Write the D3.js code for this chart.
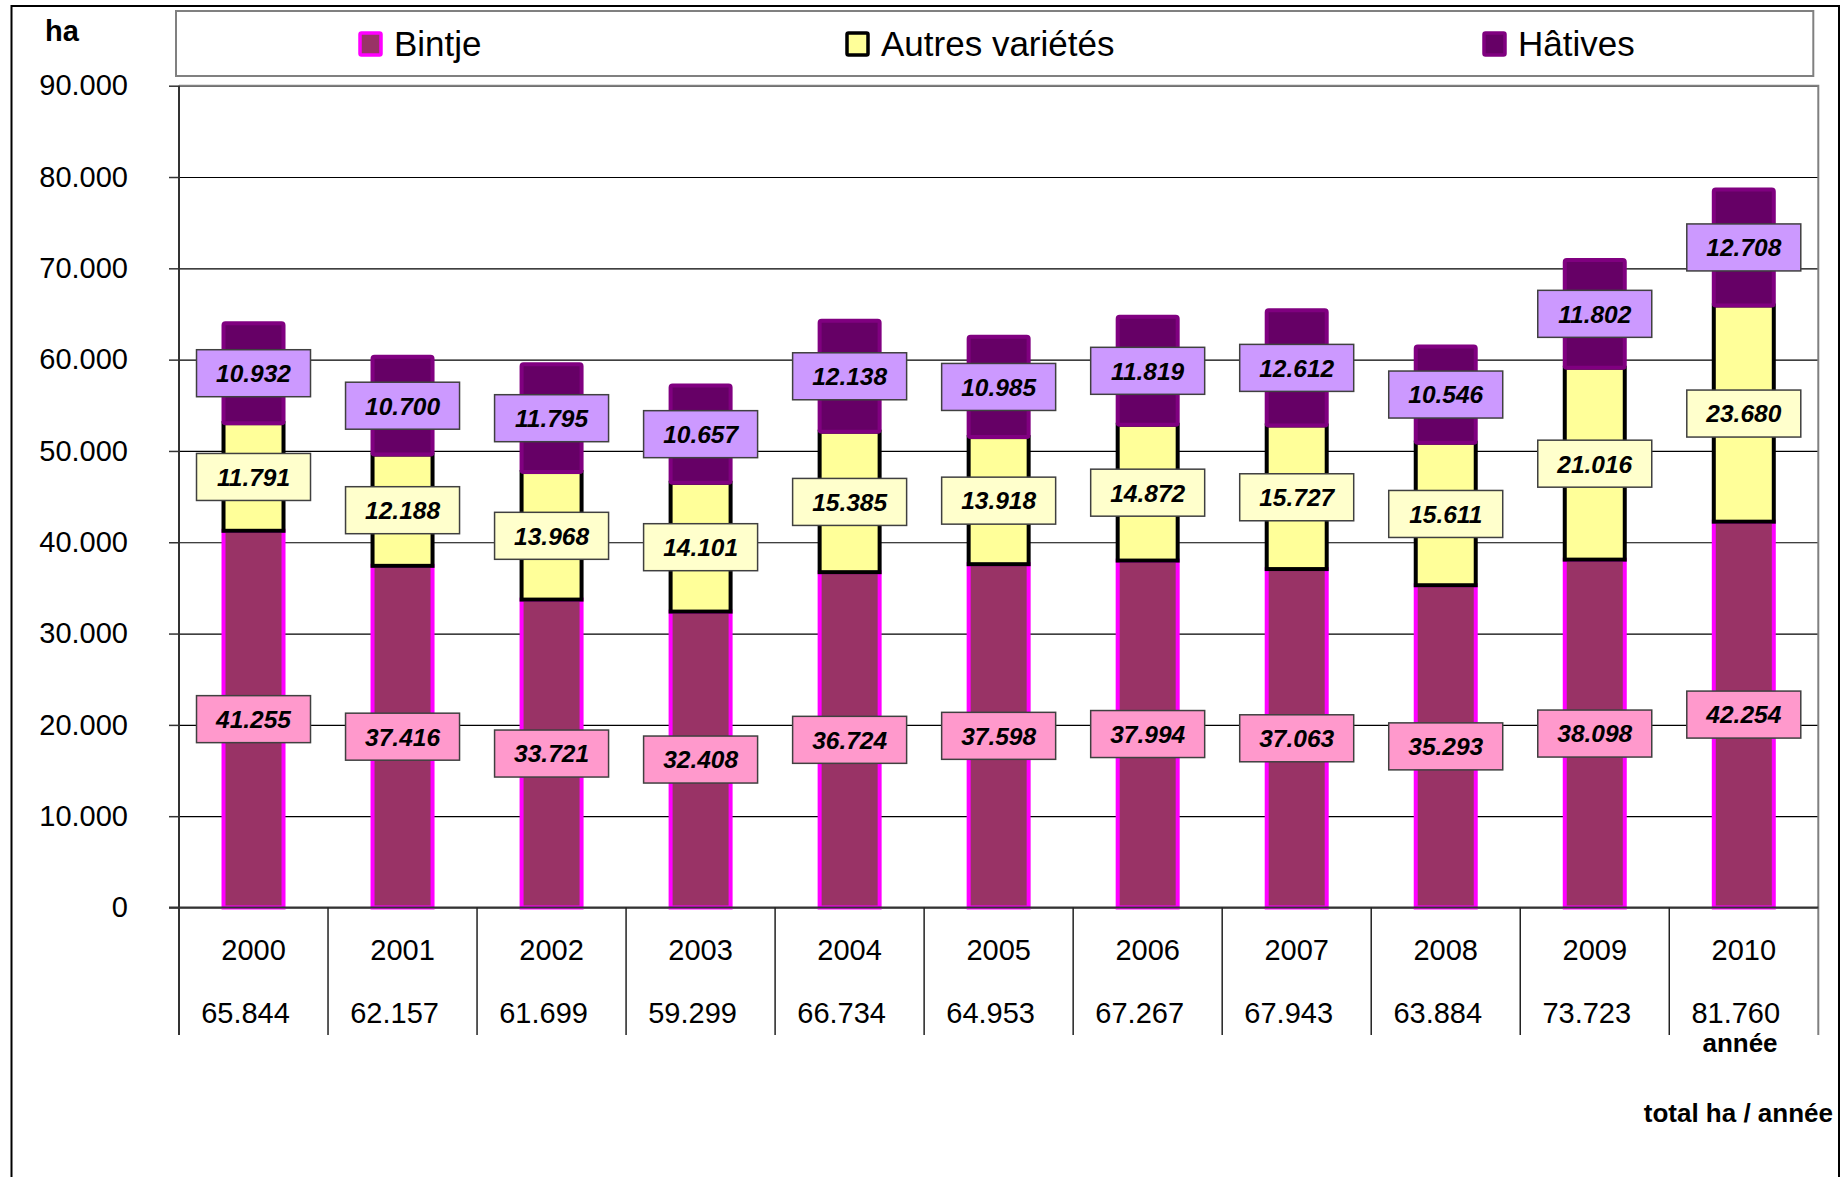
<!DOCTYPE html>
<html>
<head>
<meta charset="utf-8">
<script src="https://cdn.jsdelivr.net/npm/d3@7"></script>
<style>
  body { margin: 0; background: #fff; }
  svg { display: block; font-family: Arial, "Liberation Sans", sans-serif; }
</style>
</head>
<body>
<script>
// data
var years = ["2000", "2001", "2002", "2003", "2004", "2005", "2006", "2007", "2008", "2009", "2010"];
var bintje = [41255, 37416, 33721, 32408, 36724, 37598, 37994, 37063, 35293, 38098, 42254];
var autres = [11791, 12188, 13968, 14101, 15385, 13918, 14872, 15727, 15611, 21016, 23680];
var hatives = [10932, 10700, 11795, 10657, 12138, 10985, 11819, 12612, 10546, 11802, 12708];
var totals = [65844, 62157, 61699, 59299, 66734, 64953, 67267, 67943, 63884, 73723, 81760];
var yTicks = [0, 10000, 20000, 30000, 40000, 50000, 60000, 70000, 80000, 90000];

var seriesNames = ["Bintje", "Autres variétés", "Hâtives"];
var seriesKeys = ["bintje", "autres", "hatives"];

var W = 1845, H = 1177;
// plot area (note: "top" is a reserved global in browsers)
var pLeft = 179, pRight = 1818.3, pTop = 85.7, pBottom = 907.5;
var sepBottom = 1035;

var loc = d3.formatLocale({ decimal: ",", thousands: ".", grouping: [3], currency: ["", ""] });
var fmt = loc.format(",d");

var style = {
  bintje:  { fill: "#993366", stroke: "#FF00FF", label: "#FF99CC", rx: 0 },
  autres:  { fill: "#FFFF99", stroke: "#000000", label: "#FFFFCC", rx: 0 },
  hatives: { fill: "#660066", stroke: "#800080", label: "#CC99FF", rx: 2 }
};

var table = years.map(function(y, i) {
  return { year: y, bintje: bintje[i], autres: autres[i], hatives: hatives[i], total: totals[i] };
});

var svg = d3.select("body").append("svg")
    .attr("width", W)
    .attr("height", H);

// outer frame
svg.append("rect")
    .attr("x", 11.5).attr("y", 6)
    .attr("width", 1839 - 11.5).attr("height", H + 10)
    .attr("fill", "#fff").attr("stroke", "#000").attr("stroke-width", 2);

var x = d3.scaleBand().domain(years).range([pLeft, pRight]).padding(0);
var y = d3.scaleLinear().domain([0, 90000]).range([pBottom, pTop]);

// grid lines
svg.append("g")
    .attr("transform", "translate(" + pLeft + ",0)")
    .call(d3.axisLeft(y).tickValues(yTicks).tickSize(-(pRight - pLeft)).tickFormat(""))
    .call(function(g) {
      g.select(".domain").remove();
      g.selectAll("line").attr("stroke", "#000").attr("stroke-width", 1.2);
    });

// plot frame top + right (grey)
svg.append("path")
    .attr("d", "M" + pLeft + "," + pTop + "H" + pRight + "V" + sepBottom)
    .attr("fill", "none").attr("stroke", "#808080").attr("stroke-width", 2);

// y axis with labels
svg.append("g")
    .attr("transform", "translate(" + pLeft + ",0)")
    .call(d3.axisLeft(y).tickValues(yTicks).tickSize(10).tickPadding(41).tickFormat(fmt))
    .call(function(g) {
      g.select(".domain").remove();
      g.selectAll("line").attr("stroke", "#333").attr("stroke-width", 1.5);
      g.selectAll("text").attr("font-size", 29).attr("fill", "#000")
        .attr("font-family", "Arial, 'Liberation Sans', sans-serif");
    });

// bars
var stack = d3.stack().keys(seriesKeys);
var layers = stack(table);
var barW = 60;

svg.append("g").selectAll("g")
    .data(layers)
    .join("g")
    .each(function(layer) {
      var s = style[layer.key];
      d3.select(this).selectAll("rect")
        .data(layer)
        .join("rect")
        .attr("x", function(d) { return x(d.data.year) + x.bandwidth() / 2 - barW / 2; })
        .attr("y", function(d) { return y(d[1]); })
        .attr("width", barW)
        .attr("height", function(d) { return y(d[0]) - y(d[1]); })
        .attr("rx", s.rx)
        .attr("fill", s.fill)
        .attr("stroke", s.stroke)
        .attr("stroke-width", 4);
    });

// axis lines (left + zero) and category separators
svg.append("line")
    .attr("x1", pLeft).attr("x2", pLeft).attr("y1", pTop).attr("y2", sepBottom)
    .attr("stroke", "#333").attr("stroke-width", 2);
svg.append("line")
    .attr("x1", 169).attr("x2", pRight).attr("y1", pBottom).attr("y2", pBottom)
    .attr("stroke", "#333").attr("stroke-width", 2);
svg.append("g").selectAll("line")
    .data(years.slice(1))
    .join("line")
    .attr("x1", function(d) { return x(d); })
    .attr("x2", function(d) { return x(d); })
    .attr("y1", pBottom).attr("y2", sepBottom)
    .attr("stroke", "#222").attr("stroke-width", 1.5);

// data labels
var labW = 114, labH = 47;
var labels = svg.append("g");
layers.forEach(function(layer) {
  var s = style[layer.key];
  var g = labels.append("g").selectAll("g")
    .data(layer)
    .join("g")
    .attr("transform", function(d) {
      return "translate(" + (x(d.data.year) + x.bandwidth() / 2) + "," + y((d[0] + d[1]) / 2) + ")";
    });
  g.append("rect")
    .attr("x", -labW / 2).attr("y", -labH / 2)
    .attr("width", labW).attr("height", labH)
    .attr("fill", s.label)
    .attr("stroke", "#404040").attr("stroke-width", 1.5);
  g.append("text")
    .attr("text-anchor", "middle")
    .attr("dy", "0.36em")
    .attr("font-size", 24.5)
    .attr("font-weight", "bold")
    .attr("font-style", "italic")
    .text(function(d) { return fmt(d.data[layer.key]); });
});

// category labels + totals
svg.append("g").selectAll("text")
    .data(table)
    .join("text")
    .attr("x", function(d) { return x(d.year) + x.bandwidth() / 2; })
    .attr("y", 960)
    .attr("text-anchor", "middle")
    .attr("font-size", 29)
    .text(function(d) { return d.year; });

svg.append("g").selectAll("text")
    .data(table)
    .join("text")
    .attr("x", function(d) { return x(d.year) + x.bandwidth() / 2 - 8; })
    .attr("y", 1023)
    .attr("text-anchor", "middle")
    .attr("font-size", 29)
    .text(function(d) { return fmt(d.total); });

svg.append("text")
    .attr("x", 1740).attr("y", 1052)
    .attr("text-anchor", "middle")
    .attr("font-size", 26).attr("font-weight", "bold")
    .text("année");

svg.append("text")
    .attr("x", 1833).attr("y", 1122)
    .attr("text-anchor", "end")
    .attr("font-size", 26).attr("font-weight", "bold")
    .text("total ha / année");

svg.append("text")
    .attr("x", 45).attr("y", 41)
    .attr("font-size", 29).attr("font-weight", "bold")
    .text("ha");

// legend
var legend = svg.append("g");
legend.append("rect")
    .attr("x", 176).attr("y", 11)
    .attr("width", 1813.3 - 176).attr("height", 65)
    .attr("fill", "#fff").attr("stroke", "#808080").attr("stroke-width", 2);

var legX = [358, 845, 1482];
var item = legend.selectAll("g.item")
    .data(seriesKeys)
    .join("g")
    .attr("class", "item")
    .attr("transform", function(d, i) { return "translate(" + legX[i] + ",0)"; });
item.append("rect")
    .attr("x", 2).attr("y", 33)
    .attr("width", 21).attr("height", 22)
    .attr("rx", 1.5)
    .attr("fill", function(d) { return style[d].fill; })
    .attr("stroke", function(d) { return style[d].stroke; })
    .attr("stroke-width", 3.5);
item.append("text")
    .attr("x", 36).attr("y", 56)
    .attr("font-size", 35)
    .text(function(d, i) { return seriesNames[i]; });
</script>
</body>
</html>
